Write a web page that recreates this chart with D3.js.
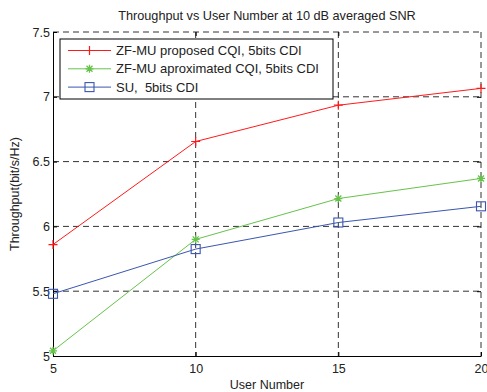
<!DOCTYPE html>
<html>
<head>
<meta charset="utf-8">
<script src="https://cdn.jsdelivr.net/npm/d3@7"></script>
<style>
  body { margin: 0; background: #fff; }
  text { font-family: "Liberation Sans", Arial, sans-serif; fill: #222; white-space: pre; }
</style>
</head>
<body>
<div id="chart"></div>
<script>
const users = [5, 10, 15, 20];
const proposed = [5.86, 6.655, 6.935, 7.065];
const approx = [5.04, 5.90, 6.215, 6.37];
const su = [5.48, 5.825, 6.03, 6.155];
const xTicks = [5, 10, 15, 20];
const yTicks = [5, 5.5, 6, 6.5, 7, 7.5];

const series = [
  { name: "ZF-MU proposed CQI, 5bits CDI", values: proposed, color: "#ff1a1a", marker: "plus" },
  { name: "ZF-MU aproximated CQI, 5bits CDI", values: approx, color: "#66c34a", marker: "star" },
  { name: "SU,  5bits CDI", values: su, color: "#3a56b0", marker: "square" }
];

const W = 487, H = 392;
const margin = { top: 32, right: 6, bottom: 36, left: 53 };
const width = W - margin.left - margin.right;
const height = H - margin.top - margin.bottom;

const svg = d3.select("#chart").append("svg")
  .attr("width", W).attr("height", H);

const g = svg.append("g")
  .attr("transform", `translate(${margin.left},${margin.top})`);

const x = d3.scaleLinear().domain([5, 20]).range([0, width]);
const y = d3.scaleLinear().domain([5, 7.5]).range([height, 0]);

// grid
g.selectAll(".vgrid").data(xTicks.slice(1)).join("line")
  .attr("x1", d => x(d)).attr("x2", d => x(d))
  .attr("y1", 0).attr("y2", height)
  .attr("stroke", "#333").attr("stroke-width", 1)
  .attr("stroke-dasharray", "6,4");

g.selectAll(".hgrid").data(yTicks.slice(1)).join("line")
  .attr("x1", 0).attr("x2", width)
  .attr("y1", d => y(d)).attr("y2", d => y(d))
  .attr("stroke", "#333").attr("stroke-width", 1)
  .attr("stroke-dasharray", "6,4");

// axes (ticks inward)
g.append("g")
  .attr("transform", `translate(0,${height})`)
  .call(d3.axisBottom(x).tickValues(xTicks).tickSizeInner(-4).tickSizeOuter(0).tickPadding(8))
  .call(a => a.select(".domain").attr("stroke", "#000"))
  .call(a => a.selectAll("text").attr("font-size", 12.5));

g.append("g")
  .call(d3.axisLeft(y).tickValues(yTicks).tickFormat(d3.format("")).tickSizeInner(-4).tickSizeOuter(0).tickPadding(3))
  .call(a => a.select(".domain").attr("stroke", "#000"))
  .call(a => a.selectAll("text").attr("font-size", 12.5));

// top and right inward ticks
g.append("g")
  .call(d3.axisTop(x).tickValues(xTicks.slice(1, 3)).tickSizeInner(-4).tickSizeOuter(0).tickFormat(""))
  .call(a => a.select(".domain").remove());
g.append("g")
  .attr("transform", `translate(${width},0)`)
  .call(d3.axisRight(y).tickValues(yTicks.slice(1, 5)).tickSizeInner(-4).tickSizeOuter(0).tickFormat(""))
  .call(a => a.select(".domain").remove());

// lines
const line = d3.line().x((d, i) => x(users[i])).y(d => y(d));

function drawMarker(sel, type, color) {
  if (type === "plus") {
    sel.append("path").attr("d", "M-4.5,0H4.5M0,-4.5V4.5")
      .attr("stroke", color).attr("stroke-width", 1.2).attr("fill", "none");
  } else if (type === "star") {
    sel.append("path").attr("d", "M-4,0H4M0,-4V4M-3,-3L3,3M-3,3L3,-3")
      .attr("stroke", color).attr("stroke-width", 1.3).attr("fill", "none");
  } else {
    sel.append("rect").attr("x", -4.5).attr("y", -4.5).attr("width", 9).attr("height", 9)
      .attr("stroke", color).attr("stroke-width", 1.1).attr("fill", "none");
  }
}

series.forEach(s => {
  g.append("path").datum(s.values)
    .attr("d", line).attr("fill", "none")
    .attr("stroke", s.color).attr("stroke-width", 1);
  s.values.forEach((v, i) => {
    const m = g.append("g").attr("transform", `translate(${x(users[i])},${y(v)})`);
    drawMarker(m, s.marker, s.color);
  });
});

// legend
const legend = g.append("g").attr("transform", "translate(7,7)");
legend.append("rect")
  .attr("width", 273).attr("height", 60)
  .attr("fill", "#fff").attr("stroke", "#000").attr("stroke-width", 1);
series.forEach((s, i) => {
  const row = legend.append("g").attr("transform", `translate(0,${11.5 + i * 18.3})`);
  row.append("line").attr("x1", 8).attr("x2", 51).attr("y1", 0).attr("y2", 0)
    .attr("stroke", s.color).attr("stroke-width", 1);
  drawMarker(row.append("g").attr("transform", "translate(29.5,0)"), s.marker, s.color);
  row.append("text").attr("x", 56).attr("y", 0).attr("dy", "0.35em")
    .attr("font-size", 13).text(s.name);
});

// titles
svg.append("text")
  .attr("x", margin.left + width / 2).attr("y", 20)
  .attr("text-anchor", "middle").attr("font-size", 12.7)
  .text("Throughput vs User Number at 10 dB averaged SNR");

svg.append("text")
  .attr("x", margin.left + width / 2).attr("y", 389)
  .attr("text-anchor", "middle").attr("font-size", 12.5)
  .text("User Number");

svg.append("text")
  .attr("transform", `translate(19,${margin.top + height / 2}) rotate(-90)`)
  .attr("text-anchor", "middle").attr("font-size", 12.5)
  .text("Throughput(bit/s/Hz)");
</script>
</body>
</html>
